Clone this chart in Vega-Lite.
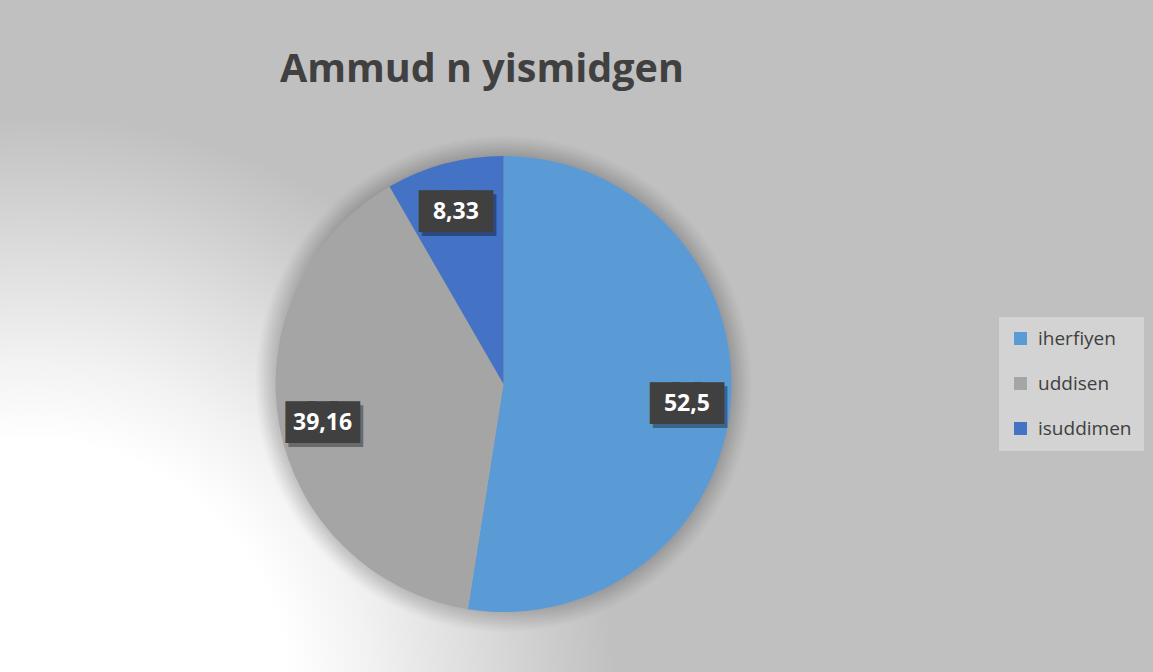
{
  "$schema": "https://vega.github.io/schema/vega-lite/v6.json",
  "width": 1007,
  "height": 576,
  "autosize": {"type": "none"},
  "padding": {"left": 0, "top": 96, "right": 146, "bottom": 0},
  "background": "#c0c0c0",
  "config": {
    "view": {"stroke": null},
    "locale": {"number": {"decimal": ",", "thousands": ".", "grouping": [3], "currency": ["", ""]}}
  },
  "view": {
    "stroke": null,
    "fill": {
      "gradient": "radial",
      "x1": 0.03, "y1": 0.814, "r1": 0,
      "x2": 0.03, "y2": 0.814, "r2": 0.626,
      "stops": [
        {"offset": 0, "color": "#ffffff"},
        {"offset": 0.413, "color": "#ffffff"},
        {"offset": 0.54, "color": "#f2f2f2"},
        {"offset": 0.714, "color": "#dcdcdc"},
        {"offset": 0.84, "color": "#cbcbcb"},
        {"offset": 0.93, "color": "#c0c0c0"},
        {"offset": 1, "color": "#c0c0c0"}
      ]
    }
  },
  "title": {
    "text": "Ammud n yismidgen",
    "anchor": "start",
    "dx": 280,
    "offset": 6,
    "font": "Open Sans",
    "fontSize": 39.5,
    "fontWeight": "bold",
    "color": "#404040"
  },
  "data": {
    "values": [
      {"category": "iherfiyen", "value": 52.5},
      {"category": "uddisen", "value": 39.16},
      {"category": "isuddimen", "value": 8.33}
    ]
  },
  "layer": [
    {
      "transform": [{"aggregate": [{"op": "sum", "field": "value", "as": "total"}]}],
      "mark": {"type": "arc", "outerRadius": 248, "theta": 6.2832, "fill": "#000000", "opacity": 0.012},
      "encoding": {}
    },
    {
      "transform": [{"aggregate": [{"op": "sum", "field": "value", "as": "total"}]}],
      "mark": {"type": "arc", "outerRadius": 246, "theta": 6.2832, "fill": "#000000", "opacity": 0.014},
      "encoding": {}
    },
    {
      "transform": [{"aggregate": [{"op": "sum", "field": "value", "as": "total"}]}],
      "mark": {"type": "arc", "outerRadius": 244, "theta": 6.2832, "fill": "#000000", "opacity": 0.016},
      "encoding": {}
    },
    {
      "transform": [{"aggregate": [{"op": "sum", "field": "value", "as": "total"}]}],
      "mark": {"type": "arc", "outerRadius": 242, "theta": 6.2832, "fill": "#000000", "opacity": 0.018},
      "encoding": {}
    },
    {
      "transform": [{"aggregate": [{"op": "sum", "field": "value", "as": "total"}]}],
      "mark": {"type": "arc", "outerRadius": 240, "theta": 6.2832, "fill": "#000000", "opacity": 0.02},
      "encoding": {}
    },
    {
      "transform": [{"aggregate": [{"op": "sum", "field": "value", "as": "total"}]}],
      "mark": {"type": "arc", "outerRadius": 238, "theta": 6.2832, "fill": "#000000", "opacity": 0.02},
      "encoding": {}
    },
    {
      "transform": [{"aggregate": [{"op": "sum", "field": "value", "as": "total"}]}],
      "mark": {"type": "arc", "outerRadius": 236, "theta": 6.2832, "fill": "#000000", "opacity": 0.02},
      "encoding": {}
    },
    {
      "transform": [{"aggregate": [{"op": "sum", "field": "value", "as": "total"}]}],
      "mark": {"type": "arc", "outerRadius": 234, "theta": 6.2832, "fill": "#000000", "opacity": 0.02},
      "encoding": {}
    },
    {
      "transform": [{"aggregate": [{"op": "sum", "field": "value", "as": "total"}]}],
      "mark": {"type": "arc", "outerRadius": 232, "theta": 6.2832, "fill": "#000000", "opacity": 0.02},
      "encoding": {}
    },
    {
      "transform": [{"aggregate": [{"op": "sum", "field": "value", "as": "total"}]}],
      "mark": {"type": "arc", "outerRadius": 230, "theta": 6.2832, "fill": "#000000", "opacity": 0.02},
      "encoding": {}
    },
    {
      "mark": {"type": "arc", "outerRadius": 228},
      "encoding": {
        "theta": {"field": "value", "type": "quantitative", "stack": true},
        "order": {"field": "value", "sort": "descending"},
        "color": {
          "field": "category",
          "type": "nominal",
          "scale": {"domain": ["iherfiyen", "uddisen", "isuddimen"], "range": ["#5B9BD5", "#A5A5A5", "#4472C4"]},
          "legend": {
            "orient": "none",
            "legendX": 999,
            "legendY": 221,
            "title": null,
            "symbolType": "square",
            "symbolSize": 169,
            "symbolStrokeWidth": 0,
            "symbolOpacity": 1,
            "labelFont": "Open Sans",
            "labelFontSize": 19,
            "labelColor": "#404040",
            "labelOffset": 8,
            "fillColor": "#d3d3d3",
            "padding": 12,
            "rowPadding": 25
          }
        }
      }
    },
    {
      "mark": {"type": "text", "radius": 184, "text": "███", "font": "DejaVu Sans", "fontSize": 28.8, "align": "center", "baseline": "middle", "fill": "#000000", "stroke": "#000000", "strokeWidth": 7.6, "strokeJoin": "miter", "opacity": 0.35, "dx": 3, "dy": 10},
      "encoding": {
        "theta": {"field": "value", "type": "quantitative", "stack": true},
        "order": {"field": "value", "sort": "descending"}
      }
    },
    {
      "mark": {"type": "text", "radius": 184, "text": "███", "font": "DejaVu Sans", "fontSize": 28.8, "align": "center", "baseline": "middle", "fill": "#404040", "stroke": "#404040", "strokeWidth": 7.6, "strokeJoin": "miter", "dy": 6},
      "encoding": {
        "theta": {"field": "value", "type": "quantitative", "stack": true},
        "order": {"field": "value", "sort": "descending"}
      }
    },
    {
      "mark": {"type": "text", "radius": 184, "font": "Open Sans", "fontSize": 23, "fontWeight": "bold", "align": "center", "baseline": "middle", "fill": "#ffffff", "dy": 6},
      "encoding": {
        "theta": {"field": "value", "type": "quantitative", "stack": true},
        "order": {"field": "value", "sort": "descending"},
        "text": {"field": "value", "type": "quantitative", "format": ".4~g"}
      }
    }
  ]
}
